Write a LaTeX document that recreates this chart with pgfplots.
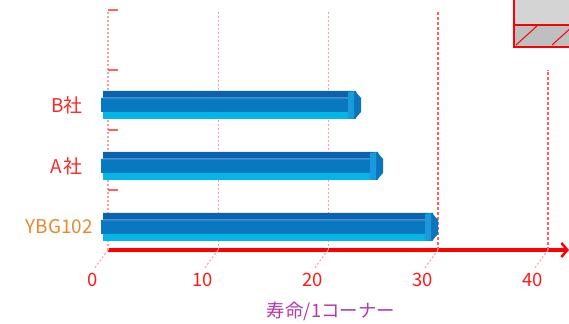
\documentclass[border=0pt]{standalone}
\usepackage{fontspec}
\setmainfont{Noto Sans CJK JP}
\usepackage{pgfplots}
\pgfplotsset{compat=1.18}
\usetikzlibrary{arrows.meta}
\definecolor{topblue}{HTML}{0B62AE}
\definecolor{frontblue}{HTML}{0878BF}
\definecolor{botcyan}{HTML}{04B6E8}
\definecolor{capblue}{HTML}{0A74BC}
\definecolor{caplight}{HTML}{1A9ADA}
\definecolor{hlblue}{HTML}{6AA6DA}
\definecolor{gridpink}{HTML}{FF9C9C}
\definecolor{gridred}{HTML}{FF6060}
\definecolor{tickred}{HTML}{FF1A1A}
\definecolor{labelred}{HTML}{FF2626}
\definecolor{ybgorange}{HTML}{E8892B}
\definecolor{titlepurple}{HTML}{B23AAA}
\definecolor{boxgrayA}{HTML}{D4D4D4}
\definecolor{boxgrayB}{HTML}{BDBFC0}
\pgfdeclareplotmark{barcap}{%
  \pgfpathmoveto{\pgfqpoint{-13bp}{13bp}}%
  \pgfpathlineto{\pgfqpoint{-6bp}{14bp}}%
  \pgfpathlineto{\pgfqpoint{0bp}{7bp}}%
  \pgfpathlineto{\pgfqpoint{0bp}{-7bp}}%
  \pgfpathlineto{\pgfqpoint{-6bp}{-14bp}}%
  \pgfpathlineto{\pgfqpoint{-13bp}{-13bp}}%
  \pgfpathclose\pgfusepathqfill}
\pgfdeclareplotmark{barcapleft}{%
  \pgfpathmoveto{\pgfqpoint{-13bp}{13bp}}%
  \pgfpathlineto{\pgfqpoint{-7bp}{13.8bp}}%
  \pgfpathlineto{\pgfqpoint{-7bp}{-13.8bp}}%
  \pgfpathlineto{\pgfqpoint{-13bp}{-13bp}}%
  \pgfpathclose\pgfusepathqfill}
\pgfplotstableread{
v y
30 0
25 1
23 2
}\lifedata
\begin{document}
\begin{tikzpicture}
\useasboundingbox (0,0) rectangle (569bp,324bp);
% partial legend box top right
\fill[boxgrayA] (514bp,335bp) rectangle (580bp,299bp);
\fill[boxgrayB] (514bp,299bp) rectangle (580bp,277bp);
\draw[red, line width=1bp] (516bp,279bp) -- (537bp,298bp);
\draw[red, line width=1bp] (552bp,279bp) -- (573bp,298bp);
\draw[red, line width=1.8bp] (514bp,335bp) -- (514bp,277bp) -- (580bp,277bp);
\draw[red, line width=1.2bp] (514bp,299bp) -- (580bp,299bp);
\begin{axis}[
  at={(108bp,74bp)}, anchor=south west,
  scale only axis, width=461bp, height=240bp,
  xmin=0, xmax=41.909, ymin=-0.377, ymax=3.557,
  clip=false,
  axis x line=bottom, axis y line*=left,
  x axis line style={red, line width=4bp, -{Straight Barb[length=6bp,width=14bp,line width=2.5bp]}},
  y axis line style={draw=none},
  xtick={0,10,20,30,40},
  xtick style={draw=none}, ytick style={draw=none},
  /pgf/number format/assume math mode=true,
  xticklabel style={text=tickred, font=\fontsize{18.5}{18.5}\selectfont, anchor=center, xshift=-15.5bp, yshift=-28bp},
  ytick={0,1,2},
  yticklabels={{\color{ybgorange}YBG102}, {\color{labelred}A\kern2bp 社\kern10bp}, {\color{labelred}B社\kern10bp}},
  yticklabel style={font=\fontsize{19}{19}\selectfont, anchor=east, inner sep=0pt, xshift=-15bp},
]
% grid and depth lines
\draw[gridpink, line width=1.2bp, dash pattern=on 2bp off 2bp] (axis cs:0,-0.377) -- (axis cs:0,3.557);
\draw[gridpink, line width=1bp, dash pattern=on 2bp off 2bp] (axis cs:10,-0.377) -- (axis cs:10,3.557);
\draw[gridpink, line width=1bp, dash pattern=on 2bp off 2bp] (axis cs:20,-0.377) -- (axis cs:20,3.557);
\draw[gridred, line width=1.2bp, dash pattern=on 3bp off 2bp] (axis cs:30,-0.377) -- (axis cs:30,3.557);
\draw[gridred, line width=1.2bp, dash pattern=on 3bp off 2bp] (axis cs:40,-0.377) -- (axis cs:40,2.574);
\draw[gridpink, line width=1bp, dash pattern=on 2bp off 2bp] (axis cs:0,-0.377) -- ++(-14bp,-19bp);
\draw[gridpink, line width=1bp, dash pattern=on 2bp off 2bp] (axis cs:10,-0.377) -- ++(-14bp,-19bp);
\draw[gridpink, line width=1bp, dash pattern=on 2bp off 2bp] (axis cs:20,-0.377) -- ++(-14bp,-19bp);
\draw[gridpink, line width=1bp, dash pattern=on 2bp off 2bp] (axis cs:30,-0.377) -- ++(-14bp,-19bp);
\draw[gridpink, line width=1bp, dash pattern=on 2bp off 2bp] (axis cs:40,-0.377) -- ++(-14bp,-19bp);
\draw[gridred, line width=1.2bp] (axis cs:0,3.557) -- ++(10bp,0bp);
\draw[gridred, line width=1.2bp] (axis cs:0,2.574) -- ++(10bp,0bp);
\draw[gridred, line width=1.2bp] (axis cs:0,1.590) -- ++(10bp,0bp);
\draw[gridred, line width=1.2bp] (axis cs:0,0.607) -- ++(10bp,0bp);
% bars
\addplot[xbar, bar width=7bp, bar shift=-10.5bp, fill=botcyan, draw=none, xshift=-5bp] table[x=v,y=y] {\lifedata};
\addplot[xbar, bar width=14bp, bar shift=0bp, fill=frontblue, draw=none, xshift=-7bp] table[x=v,y=y] {\lifedata};
\addplot[xbar, bar width=7bp, bar shift=10.5bp, fill=topblue, draw=none, xshift=-5bp] table[x=v,y=y] {\lifedata};
\addplot[xbar, bar width=1bp, bar shift=7bp, fill=hlblue, draw=none, xshift=-5bp] table[x=v,y=y] {\lifedata};
\addplot[only marks, mark=barcap, color=capblue] table[x=v,y=y] {\lifedata};
\addplot[only marks, mark=barcapleft, color=caplight] table[x=v,y=y] {\lifedata};
\end{axis}
\node[text=titlepurple, font=\fontsize{18.5}{18.5}\selectfont] at (331bp,13bp) {寿命/1コーナー};
\end{tikzpicture}
\end{document}
